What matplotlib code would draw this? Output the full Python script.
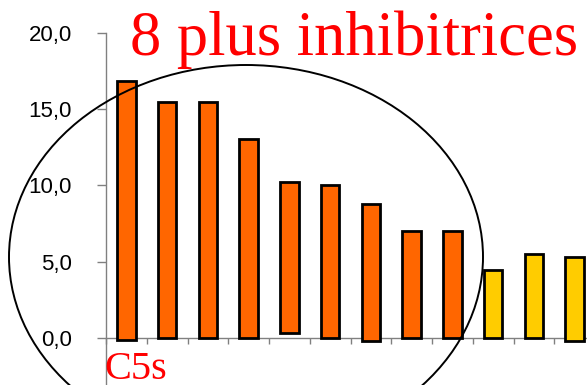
import matplotlib
matplotlib.use("Agg")
import matplotlib.pyplot as plt
from matplotlib.patches import Ellipse
from matplotlib.ticker import FixedLocator, FuncFormatter

# Bar values (top and base of each bar)
tops = [16.85, 15.5, 15.5, 13.05, 10.25, 10.0, 8.77, 7.0, 7.0, 4.42, 5.5, 5.3]
bottoms = [-0.13, 0.0, 0.0, 0.0, 0.3, 0.0, -0.24, 0.0, 0.0, 0.0, 0.0, -0.24]
colors = ["#FF6600"] * 9 + ["#FFCC00"] * 3
yticks = [0, 5, 10, 15, 20]
title = "8 plus inhibitrices"
first_label = "C5s"

W, H, DPI = 587, 385, 100
fig = plt.figure(figsize=(W / DPI, H / DPI), dpi=DPI)
ax = fig.add_axes([106 / W, 0, 1 - 106 / W, 1 - 33 / H])

x = list(range(len(tops)))
heights = [t - b for t, b in zip(tops, bottoms)]
ax.bar(x, heights, bottom=bottoms, width=0.46, color=colors,
       edgecolor="black", linewidth=2.0, zorder=3)

ax.set_ylim(-3.1, 20)
ax.set_xlim(-0.5, (W - 106) / 40.75 - 0.5)

for s in ("top", "right"):
    ax.spines[s].set_visible(False)
ax.spines["left"].set_color("#808080")
ax.spines["bottom"].set_color("#808080")
ax.spines["left"].set_linewidth(1.0)
ax.spines["bottom"].set_linewidth(1.0)
ax.spines["bottom"].set_position(("data", 0))

ax.yaxis.set_major_locator(FixedLocator(yticks))
ax.yaxis.set_major_formatter(FuncFormatter(lambda v, p: f"{v:.1f}".replace(".", ",")))
ax.tick_params(axis="y", direction="out", length=6.5, width=1.0, color="#808080",
               pad=18, labelsize=16, labelcolor="black")
for lab in ax.get_yticklabels():
    lab.set_fontfamily("Liberation Sans")

ax.xaxis.set_major_locator(FixedLocator([]))
ax.xaxis.set_minor_locator(FixedLocator([i + 0.5 for i in range(-1, 13)]))
ax.tick_params(axis="x", which="minor", direction="out", length=4, width=1.0,
               color="#808080")

fig.text(130 / W, 1 - 55 / H, title, fontsize=45, color="red",
         family="Liberation Serif", va="baseline", ha="left")
fig.text(104 / W, 1 - 379 / H, first_label, fontsize=29, color="red",
         family="Liberation Serif", va="baseline", ha="left")

ell = Ellipse((246 / W, 1 - 257 / H), 474 / W, 384 / H, transform=fig.transFigure,
              fill=False, edgecolor="black", linewidth=1.4, zorder=10)
fig.patches.append(ell)

fig.savefig("out.png", dpi=DPI)
